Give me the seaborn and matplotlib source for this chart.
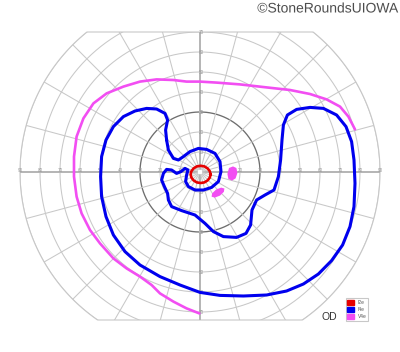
import numpy as np
import pandas as pd
import matplotlib
matplotlib.use("Agg")
import matplotlib.pyplot as plt
import seaborn as sns
from matplotlib.patches import Patch, Polygon
import matplotlib.patheffects as pe

# ---------------- data (degrees of visual field) ----------------
ring_radii = [10, 20, 30, 40, 50, 60, 70, 80, 90]
dark_ring = 30
spoke_angles = list(range(0, 360, 15))
h_labels = [10, 20, 30, 40, 50, 60, 70, 80, 90]
v_labels = [10, 20, 30, 40, 50, 60, 70]
field_top = 70
field_bottom = -74

i2e_x = [5.3, 4.9, 3.8, 2.2, 0.3, -1.6, -3.2, -4.3, -4.7, -4.3, -3.2, -1.6, 0.3, 2.2, 3.8, 4.9]
i2e_y = [-1.2, 0.4, 1.8, 2.8, 3.1, 2.8, 1.8, 0.4, -1.2, -2.8, -4.2, -5.2, -5.5, -5.2, -4.2, -2.8]

i4e_x = [-16.7, -17.2, -16.2, -17.5, -21.7, -26.7, -32.5, -38.3, -43.3, -47.0,
         -49.2, -49.7, -49.2, -47.0, -43.3, -37.5, -30.0, -20.0, -10.0, 0.0,
         10.0, 21.7, 33.3, 43.3, 51.7, 59.2, 65.8, 71.3, 75.0, 77.0,
         77.5, 77.0, 75.8, 73.0, 68.3, 61.7, 55.0, 48.3, 43.7, 41.7,
         41.0, 40.3, 39.2, 37.0, 32.5, 28.3, 26.0, 25.3, 23.0, 18.3,
         11.7, 6.7, 2.5, -2.5, -9.2, -14.2, -15.8, -16.2, -17.8, -19.2,
         -18.3, -16.7, -14.2, -11.7, -9.5, -7.5, -6.0, -6.7, -7.2, -5.8,
         -2.5, 1.7, 5.8, 9.2, 10.5, 10.0, 7.5, 3.3, -0.8, -5.0,
         -8.3, -10.8, -13.3, -15.8]
i4e_y = [16.0, 21.0, 26.0, 29.3, 31.5, 31.8, 30.5, 27.7, 22.7, 16.0,
         7.7, -2.3, -12.3, -22.3, -31.5, -39.8, -46.5, -52.3, -56.5, -60.2,
         -61.7, -62.0, -61.5, -59.5, -56.0, -51.0, -44.3, -36.5, -27.3, -17.3,
         -5.7, 6.0, 15.2, 22.7, 28.5, 31.8, 32.3, 31.3, 28.5, 23.5,
         16.0, 6.0, -2.3, -9.0, -11.5, -14.0, -19.0, -26.5, -30.7, -32.7,
         -32.3, -29.8, -25.7, -21.5, -19.3, -17.3, -14.0, -10.7, -7.3, -4.0,
         -0.7, 1.3, 1.0, -0.7, 0.2, 1.8, 1.0, -1.5, -4.8, -7.3,
         -9.0, -9.0, -7.7, -4.8, 0.2, 5.2, 9.3, 11.3, 11.8, 10.2,
         7.7, 6.0, 6.8, 11.0]

v4e_x = [-0.3, -6.7, -13.3, -20.0, -24.2, -30.0, -36.7, -43.3, -50.0, -55.0,
         -59.2, -61.7, -63.0, -63.0, -61.7, -58.3, -53.3, -46.7, -38.3, -30.0,
         -21.7, -13.3, -6.7, 0.0, 8.3, 20.0, 33.3, 45.0, 55.0, 63.3,
         70.0, 74.2, 77.5]
v4e_y = [-70.7, -68.2, -64.8, -60.7, -56.5, -52.3, -48.2, -43.2, -35.7, -29.0,
         -20.7, -12.3, -2.3, 7.7, 17.7, 26.8, 34.3, 39.3, 42.7, 45.2,
         46.3, 46.0, 45.2, 45.2, 44.7, 43.8, 42.3, 41.0, 39.0, 36.3,
         32.7, 27.7, 21.3]

v4e_spot1_x = [18.7, 18.2, 16.5, 14.5, 13.7, 14.2, 16.0, 17.8]
v4e_spot1_y = [-0.5, 2.0, 2.8, 2.0, -1.0, -3.5, -4.3, -3.2]
v4e_spot2_x = [12.2, 10.6, 8.0, 6.05, 5.8, 7.4, 10.0, 11.95]
v4e_spot2_y = [-8.25, -7.8, -8.8, -10.7, -12.35, -12.8, -11.8, -9.9]

legend_labels = ["I2e", "I4e", "V4e"]
colors = {"I2e": "#e60000", "I4e": "#0000ee", "V4e": "#f24ef2"}

# ---------------- drawing ----------------
sns.set_theme(style="white")
plt.rcParams["font.family"] = ["Liberation Sans", "DejaVu Sans"]

fig = plt.figure(figsize=(4, 3.52), dpi=100)
ax = fig.add_axes([0, 0, 1, 1])
ax.set_xlim(-100, 100)
ax.set_ylim(-90, 86)
ax.set_aspect("equal")
ax.axis("off")

th = np.linspace(0, 2 * np.pi, 1441)
bx = 90 * np.cos(th)
by = np.clip(90 * np.sin(th), field_bottom, field_top)
boundary = Polygon(np.column_stack([bx, by]), closed=True, fill=False,
                   edgecolor="#c8c8c8", lw=0.8, zorder=1)
ax.add_patch(boundary)

for r in ring_radii:
    dark = r == dark_ring
    ln, = ax.plot(r * np.cos(th), r * np.sin(th),
                  color="#6e6e6e" if dark else "#c8c8c8",
                  lw=0.95 if dark else 0.75, zorder=1)
    ln.set_clip_path(boundary)

for a in spoke_angles:
    ar = np.deg2rad(a)
    main = a % 90 == 0
    ln, = ax.plot([1.5 * np.cos(ar), 95 * np.cos(ar)], [1.5 * np.sin(ar), 95 * np.sin(ar)],
                  color="#b4b4b4" if main else "#c8c8c8",
                  lw=1.4 if main else 0.75, zorder=1)
    ln.set_clip_path(boundary)

for r in h_labels:
    for s in (-1, 1):
        ax.text(s * r, 0.6, str(r), fontsize=3.3, color="#9a9a9a",
                ha="center", va="center", zorder=2)
for r in v_labels:
    for s in (-1, 1):
        ax.text(0.6, s * r, str(r), fontsize=3.3, color="#9a9a9a",
                ha="center", va="center", zorder=2)

def draw(xs, ys, color, lw, closed):
    xs = list(xs); ys = list(ys)
    if closed:
        xs = xs + xs[:1]; ys = ys + ys[:1]
    df = pd.DataFrame({"x": xs, "y": ys})
    sns.lineplot(data=df, x="x", y="y", sort=False, estimator=None, ax=ax,
                 color=color, lw=lw, solid_joinstyle="round",
                 solid_capstyle="round", zorder=5)

draw(v4e_x, v4e_y, colors["V4e"], 1.9, False)
ax.fill(v4e_spot1_x, v4e_spot1_y, color=colors["V4e"], lw=0, zorder=5)
ax.fill(v4e_spot2_x, v4e_spot2_y, color=colors["V4e"], lw=0, zorder=5)
draw(i4e_x, i4e_y, colors["I4e"], 2.2, True)
draw(i2e_x, i2e_y, colors["I2e"], 1.9, True)

ax.set_xlim(-100, 100)
ax.set_ylim(-90, 86)
ax.axis("off")

handles = [Patch(facecolor=colors[k], edgecolor=colors[k]) for k in legend_labels]
leg = ax.legend(handles, legend_labels, loc="upper left",
                bbox_to_anchor=(0.864, 0.152), fontsize=3.5, frameon=True,
                fancybox=False, edgecolor="#bbbbbb", handlelength=1.3,
                handleheight=1.3, handletextpad=0.9, labelspacing=0.3,
                borderpad=0.35, borderaxespad=0)
leg.get_frame().set_linewidth(0.8)
for t in leg.get_texts():
    t.set_color("#555555")

fig.text(329 / 400, 1 - 316.5 / 352, "OD", fontsize=7.5, color="#333333",
         ha="center", va="center")
fig.text(0.996, 1 - 8.5 / 352, "\u00a9StoneRoundsUIOWA", fontsize=10,
         color="#4d4d4d", ha="right", va="center",
         path_effects=[pe.withStroke(linewidth=1.2, foreground="white")])

fig.savefig("out.png", dpi=100)
